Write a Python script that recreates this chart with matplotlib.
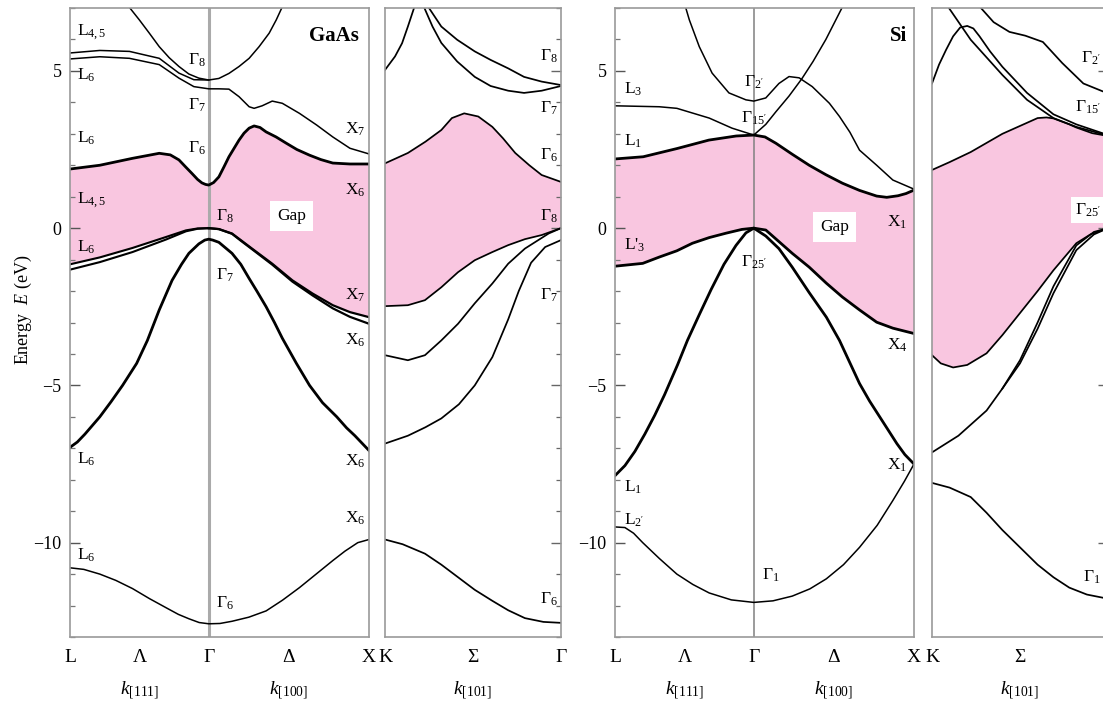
import numpy as np
import matplotlib
matplotlib.use("Agg")
import matplotlib.pyplot as plt
from matplotlib.ticker import MultipleLocator

plt.rcParams['font.family'] = ['Liberation Serif', 'DejaVu Serif']
plt.rcParams['mathtext.fontset'] = 'custom'
plt.rcParams['mathtext.rm'] = 'Liberation Serif'
plt.rcParams['mathtext.it'] = 'Liberation Serif:italic'
plt.rcParams['mathtext.bf'] = 'Liberation Serif:bold'

# ---------------- GaAs, L - Gamma - X  (k: L=-0.866, Gamma=0, X=1) ----------------
ga_c1_k = [-0.866, -0.68, -0.476, -0.309, -0.24, -0.186, -0.145, -0.105, -0.07, -0.043, -0.02, 0,
           0.03, 0.063, 0.095, 0.126, 0.189, 0.22, 0.252, 0.283, 0.32, 0.358, 0.42, 0.484, 0.55, 0.629, 0.7, 0.774, 0.881, 1.0]
ga_c1_E = [1.88, 2.0, 2.22, 2.38, 2.33, 2.17, 1.95, 1.74, 1.55, 1.44, 1.39, 1.37,
           1.45, 1.63, 1.95, 2.27, 2.8, 3.02, 3.18, 3.25, 3.2, 3.06, 2.9, 2.7, 2.5, 2.32, 2.18, 2.07, 2.04, 2.04]

ga_c2_k = [-0.866, -0.68, -0.495, -0.309, -0.186, -0.093, 0, 0.063, 0.126, 0.189, 0.252, 0.283, 0.333, 0.396, 0.459, 0.566, 0.673, 0.774, 0.881, 1.0]
ga_c2_E = [5.38, 5.45, 5.4, 5.2, 4.77, 4.5, 4.43, 4.43, 4.42, 4.18, 3.86, 3.81, 3.89, 4.04, 3.97, 3.65, 3.28, 2.9, 2.54, 2.36]

ga_c3_k = [-0.866, -0.68, -0.495, -0.309, -0.186, -0.093, 0]
ga_c3_E = [5.57, 5.65, 5.62, 5.4, 4.93, 4.72, 4.71]

ga_c4_k = [-0.5, -0.433, -0.371, -0.309, -0.247, -0.186, -0.124, -0.062, 0, 0.063, 0.126, 0.189, 0.252, 0.314, 0.377, 0.421, 0.46]
ga_c4_E = [7.05, 6.62, 6.2, 5.77, 5.42, 5.14, 4.9, 4.77, 4.71, 4.76, 4.92, 5.14, 5.4, 5.77, 6.2, 6.62, 7.05]

ga_v1a_k = [-0.866, -0.68, -0.476, -0.266, -0.142, -0.07, 0]
ga_v1a_E = [-1.15, -0.93, -0.63, -0.28, -0.07, -0.01, 0]
ga_v1b_E = [-1.32, -1.08, -0.76, -0.36, -0.1, -0.02, 0]
ga_v1c_k = [0, 0.063, 0.145, 0.2, 0.27, 0.396, 0.522, 0.648, 0.774, 0.881, 1.0]
ga_v1c_E = [0, -0.03, -0.17, -0.38, -0.65, -1.13, -1.66, -2.08, -2.45, -2.67, -2.83]
ga_v1d_E = [0, -0.03, -0.18, -0.4, -0.67, -1.16, -1.7, -2.14, -2.55, -2.82, -3.04]

ga_v2_k = [-0.866, -0.82, -0.773, -0.68, -0.61, -0.538, -0.45, -0.383, -0.309, -0.229, -0.17, -0.124, -0.062, -0.025, 0,
           0.025, 0.063, 0.145, 0.2, 0.252, 0.3, 0.358, 0.41, 0.459, 0.547, 0.629, 0.71, 0.799, 0.86, 0.912, 1.0]
ga_v2_E = [-6.97, -6.8, -6.55, -6.0, -5.52, -5.0, -4.3, -3.57, -2.6, -1.66, -1.15, -0.8, -0.5, -0.38, -0.35,
           -0.38, -0.45, -0.8, -1.15, -1.6, -2.0, -2.5, -3.0, -3.5, -4.3, -5.0, -5.55, -6.0, -6.35, -6.6, -7.07]

ga_v3_k = [-0.866, -0.78, -0.68, -0.58, -0.476, -0.37, -0.266, -0.19, -0.124, -0.06, 0,
           0.07, 0.145, 0.25, 0.358, 0.46, 0.566, 0.67, 0.774, 0.85, 0.93, 1.0]
ga_v3_E = [-10.8, -10.85, -11.0, -11.2, -11.46, -11.78, -12.07, -12.28, -12.42, -12.54, -12.58,
           -12.57, -12.5, -12.37, -12.17, -11.83, -11.43, -11.0, -10.57, -10.27, -10.0, -9.9]

# ---------------- GaAs, K - Gamma  (t: K=0, Gamma=1) ----------------
gk_c1_t = [0, 0.13, 0.23, 0.32, 0.38, 0.45, 0.53, 0.61, 0.67, 0.74, 0.82, 0.89, 1.0]
gk_c1_E = [2.06, 2.39, 2.75, 3.12, 3.5, 3.65, 3.55, 3.22, 2.86, 2.39, 2.0, 1.69, 1.47]
gk_c2_t = [0, 0.057, 0.097, 0.13, 0.168]
gk_c2_E = [5.03, 5.46, 5.88, 6.41, 7.05]
gk_c3_t = [0.244, 0.32, 0.41, 0.51, 0.6, 0.7, 0.79, 0.89, 1.0]
gk_c3_E = [7.05, 6.41, 5.99, 5.62, 5.35, 5.08, 4.81, 4.66, 4.55]
gk_c4_t = [0.22, 0.27, 0.32, 0.41, 0.51, 0.6, 0.7, 0.79, 0.89, 1.0]
gk_c4_E = [7.05, 6.41, 5.89, 5.3, 4.81, 4.52, 4.37, 4.3, 4.37, 4.52]
gk_v1_t = [0, 0.13, 0.227, 0.32, 0.415, 0.51, 0.61, 0.7, 0.795, 0.89, 1.0]
gk_v1_E = [-2.48, -2.45, -2.29, -1.88, -1.4, -1.02, -0.76, -0.54, -0.35, -0.22, 0]
gk_v2_t = [0, 0.13, 0.227, 0.32, 0.415, 0.51, 0.61, 0.7, 0.795, 0.93, 1.0]
gk_v2_E = [-4.04, -4.2, -4.04, -3.57, -3.04, -2.39, -1.76, -1.13, -0.65, -0.17, 0]
gk_v3_t = [0, 0.13, 0.23, 0.32, 0.42, 0.51, 0.61, 0.7, 0.76, 0.83, 0.91, 1.0]
gk_v3_E = [-6.85, -6.6, -6.33, -6.05, -5.6, -5.0, -4.1, -2.9, -2.0, -1.1, -0.6, -0.38]
gk_v4_t = [0, 0.1, 0.227, 0.32, 0.415, 0.51, 0.61, 0.7, 0.795, 0.9, 1.0]
gk_v4_E = [-9.9, -10.05, -10.35, -10.7, -11.1, -11.5, -11.85, -12.15, -12.4, -12.52, -12.55]

# ---------------- Si, L - Gamma - X ----------------
si_c1_k = [-0.866, -0.69, -0.48, -0.28, -0.11, 0, 0.07, 0.138, 0.24, 0.346, 0.45, 0.553, 0.66, 0.767, 0.83, 0.9, 0.95, 1.0]
si_c1_E = [2.2, 2.27, 2.53, 2.8, 2.93, 2.96, 2.9, 2.7, 2.35, 2.0, 1.7, 1.43, 1.2, 1.02, 0.98, 1.03, 1.1, 1.21]
si_c2_k = [0, 0.075, 0.138, 0.22, 0.3, 0.37, 0.45, 0.555]
si_c2_E = [2.96, 3.3, 3.7, 4.2, 4.75, 5.3, 6.0, 7.05]
si_c3_k = [-0.427, -0.402, -0.34, -0.26, -0.155, -0.049, 0, 0.075, 0.157, 0.22, 0.283, 0.365, 0.472, 0.535, 0.6, 0.66, 0.767, 0.868, 1.0]
si_c3_E = [7.05, 6.62, 5.77, 4.93, 4.3, 4.08, 4.04, 4.14, 4.6, 4.82, 4.78, 4.5, 3.97, 3.55, 3.05, 2.48, 2.0, 1.53, 1.24]
si_c4_k = [-0.866, -0.59, -0.48, -0.278, -0.136, 0]
si_c4_E = [3.89, 3.86, 3.81, 3.5, 3.18, 2.96]
si_v1_k = [-0.866, -0.693, -0.59, -0.48, -0.383, -0.278, -0.173, -0.074, 0, 0.075, 0.24, 0.346, 0.453, 0.553, 0.66, 0.767, 0.868, 1.0]
si_v1_E = [-1.21, -1.12, -0.92, -0.72, -0.48, -0.3, -0.16, -0.04, 0, -0.06, -0.8, -1.24, -1.75, -2.19, -2.6, -2.99, -3.18, -3.35]
si_v2_k = [-0.866, -0.804, -0.742, -0.68, -0.618, -0.557, -0.476, -0.414, -0.34, -0.266, -0.186, -0.111, -0.049, 0,
           0.075, 0.157, 0.24, 0.346, 0.453, 0.535, 0.597, 0.66, 0.723, 0.786, 0.849, 0.893, 0.943, 1.0]
si_v2_E = [-7.87, -7.55, -7.1, -6.55, -5.95, -5.3, -4.35, -3.57, -2.75, -1.95, -1.15, -0.55, -0.15, 0,
           -0.25, -0.65, -1.24, -2.05, -2.83, -3.57, -4.25, -4.94, -5.5, -6.0, -6.5, -6.85, -7.2, -7.5]
si_v3_k = [-0.866, -0.804, -0.75, -0.693, -0.59, -0.48, -0.38, -0.278, -0.14, 0,
           0.12, 0.24, 0.35, 0.453, 0.56, 0.66, 0.77, 0.868, 0.94, 1.0]
si_v3_E = [-9.5, -9.52, -9.7, -10.0, -10.5, -11.0, -11.33, -11.6, -11.82, -11.9,
           -11.85, -11.7, -11.47, -11.15, -10.7, -10.15, -9.45, -8.66, -8.05, -7.5]

# ---------------- Si, K - Gamma ----------------
sk_c1_t = [0, 0.1, 0.22, 0.4, 0.6, 0.65, 0.69, 0.78, 0.82, 0.91, 1.0]
sk_c1_E = [1.85, 2.1, 2.42, 3.0, 3.5, 3.52, 3.49, 3.3, 3.2, 3.02, 2.93]
sk_c2_t = [0, 0.04, 0.08, 0.12, 0.16, 0.2, 0.235, 0.27, 0.33, 0.4, 0.54, 0.69, 0.82, 1.0]
sk_c2_E = [4.6, 5.2, 5.67, 6.1, 6.38, 6.43, 6.35, 6.1, 5.62, 5.13, 4.3, 3.62, 3.3, 2.96]
sk_c3_t = [0.09, 0.22, 0.4, 0.54, 0.69, 0.82, 1.0]
sk_c3_E = [7.05, 5.99, 4.87, 4.08, 3.5, 3.22, 2.94]
sk_c4_t = [0.27, 0.35, 0.44, 0.53, 0.63, 0.74, 0.86, 0.97, 1.0]
sk_c4_E = [7.05, 6.55, 6.24, 6.12, 5.92, 5.25, 4.6, 4.35, 4.3]
sk_v1_t = [0, 0.05, 0.12, 0.2, 0.31, 0.4, 0.5, 0.6, 0.69, 0.82, 0.9, 1.0]
sk_v1_E = [-4.04, -4.3, -4.43, -4.35, -3.98, -3.4, -2.7, -2.0, -1.34, -0.48, -0.2, 0]
sk_v2_t = [0, 0.15, 0.31, 0.4, 0.5, 0.6, 0.69, 0.82, 0.92, 1.0]
sk_v2_E = [-7.13, -6.6, -5.8, -5.1, -4.3, -3.2, -2.07, -0.7, -0.2, 0]
sk_v2b_t = [0.4, 0.5, 0.6, 0.69, 0.82, 0.92, 1.0]
sk_v2b_E = [-5.1, -4.2, -3.0, -1.85, -0.55, -0.12, 0]
sk_v3_t = [0, 0.1, 0.22, 0.31, 0.4, 0.5, 0.6, 0.69, 0.78, 0.88, 0.97, 1.0]
sk_v3_E = [-8.1, -8.25, -8.55, -9.05, -9.6, -10.15, -10.7, -11.1, -11.43, -11.65, -11.75, -11.8]

PINK = '#f9c6e0'
THICK = 2.0
THIN = 1.1
SPINE = '#9a9a9a'
W, H = 1103, 709

fig = plt.figure(figsize=(W / 100, H / 100), dpi=100)

def pax(x0, x1):
    return fig.add_axes([x0 / W, 1 - 637 / H, (x1 - x0) / W, 629 / H])

ax1 = pax(70, 369)
ax2 = pax(385, 561)
ax3 = pax(615, 914)
ax4 = pax(932, 1108)

for ax in (ax1, ax2, ax3, ax4):
    ax.set_ylim(-13, 7)
    for s in ax.spines.values():
        s.set_color(SPINE)
        s.set_linewidth(1.2)
    ax.yaxis.set_major_locator(MultipleLocator(5))
    ax.yaxis.set_minor_locator(MultipleLocator(1))
    ax.tick_params(axis='x', length=0, labelsize=14, pad=9)

for ax in (ax1, ax3):
    ax.set_xlim(-0.866, 1.0)
    ax.set_xticks([-0.866, -0.433, 0, 0.5, 1.0])
    ax.set_xticklabels(['L', 'Λ', 'Γ', 'Δ', 'X'])
    ax.tick_params(axis='y', which='major', direction='in', length=7, width=1.0,
                   color='#555555', labelsize=13, pad=6, left=True, right=False)
    ax.tick_params(axis='y', which='minor', direction='in', length=3.5, width=0.9,
                   color='#777777', left=True, right=False)

for ax in (ax2, ax4):
    ax.set_xlim(0, 1)
    ax.set_xticks([0, 0.5, 1.0])
    ax.set_xticklabels(['K', 'Σ', 'Γ'])
    ax.tick_params(axis='y', which='both', direction='in', left=False, right=True,
                   labelleft=False, labelright=False, color='#666666')
    ax.tick_params(axis='y', which='major', length=7, width=1.0)
    ax.tick_params(axis='y', which='minor', length=3.5, width=0.9)

ax1.set_ylabel('Energy  $E$ (eV)', fontsize=13)
ax1.yaxis.set_label_coords(-0.12, 0.52)

# ---------- Panel 1: GaAs ----------
ax = ax1
lo_k = ga_v1a_k + ga_v1c_k[1:]
lo_E = ga_v1a_E + ga_v1c_E[1:]
ax.fill(ga_c1_k + lo_k[::-1], ga_c1_E + lo_E[::-1], color=PINK, lw=0, zorder=0)
ax.axvline(0, color='#aaaaaa', lw=2.2, zorder=1)
ax.plot(ga_c1_k, ga_c1_E, 'k', lw=THICK)
ax.plot(ga_c2_k, ga_c2_E, 'k', lw=THIN)
ax.plot(ga_c3_k, ga_c3_E, 'k', lw=THIN)
ax.plot(ga_c4_k, ga_c4_E, 'k', lw=THIN)
ax.plot(ga_v1a_k, ga_v1a_E, 'k', lw=1.5)
ax.plot(ga_v1a_k, ga_v1b_E, 'k', lw=1.5)
ax.plot(ga_v1c_k, ga_v1c_E, 'k', lw=1.6)
ax.plot(ga_v1c_k, ga_v1d_E, 'k', lw=1.6)
ax.plot(ga_v2_k, ga_v2_E, 'k', lw=THICK)
ax.plot(ga_v3_k, ga_v3_E, 'k', lw=THIN)

FS = 12.5
def lab(ax, x, y, s, ha='left', **kw):
    ax.text(x, y, s, ha=ha, va='center', fontsize=FS, **kw)

for y, s in [(6.24, 'L$_{\\mathrm{4,5}}$'), (4.87, 'L$_{\\mathrm{6}}$'), (2.85, 'L$_{\\mathrm{6}}$'),
             (0.9, 'L$_{\\mathrm{4,5}}$'), (-0.62, 'L$_{\\mathrm{6}}$'), (-7.35, 'L$_{\\mathrm{6}}$'),
             (-10.4, 'L$_{\\mathrm{6}}$')]:
    lab(ax1, -0.82, y, s)
for y, s in [(5.35, 'Γ$_{\\mathrm{8}}$'), (3.9, 'Γ$_{\\mathrm{7}}$'), (2.55, 'Γ$_{\\mathrm{6}}$')]:
    lab(ax1, -0.02, y, s, ha='right')
for y, s in [(0.38, 'Γ$_{\\mathrm{8}}$'), (-1.5, 'Γ$_{\\mathrm{7}}$'), (-11.94, 'Γ$_{\\mathrm{6}}$')]:
    lab(ax1, 0.045, y, s)
for y, s in [(3.15, 'X$_{\\mathrm{7}}$'), (1.2, 'X$_{\\mathrm{6}}$'), (-2.13, 'X$_{\\mathrm{7}}$'),
             (-3.57, 'X$_{\\mathrm{6}}$'), (-7.42, 'X$_{\\mathrm{6}}$'), (-9.24, 'X$_{\\mathrm{6}}$')]:
    lab(ax1, 0.975, y, s, ha='right')
ax1.text(0.935, 6.1, 'GaAs', ha='right', va='center', fontsize=15, fontweight='bold')
ax1.text(0.515, 0.4, 'Gap', ha='center', va='center', fontsize=12.5,
         bbox=dict(facecolor='white', edgecolor='none', pad=5))

# ---------- Panel 2: GaAs K-Gamma ----------
ax = ax2
ax.fill(gk_c1_t + gk_v1_t[::-1], gk_c1_E + gk_v1_E[::-1], color=PINK, lw=0, zorder=0)
for t, e in [(gk_c1_t, gk_c1_E), (gk_c2_t, gk_c2_E), (gk_c3_t, gk_c3_E), (gk_c4_t, gk_c4_E),
             (gk_v1_t, gk_v1_E), (gk_v2_t, gk_v2_E), (gk_v3_t, gk_v3_E), (gk_v4_t, gk_v4_E)]:
    ax.plot(t, e, 'k', lw=1.25)
for y, s in [(5.45, 'Γ$_{\\mathrm{8}}$'), (3.82, 'Γ$_{\\mathrm{7}}$'), (2.32, 'Γ$_{\\mathrm{6}}$'),
             (0.38, 'Γ$_{\\mathrm{8}}$'), (-2.13, 'Γ$_{\\mathrm{7}}$'), (-11.8, 'Γ$_{\\mathrm{6}}$')]:
    lab(ax2, 0.98, y, s, ha='right')

# ---------- Panel 3: Si ----------
ax = ax3
ax.fill(si_c1_k + si_v1_k[::-1], si_c1_E + si_v1_E[::-1], color=PINK, lw=0, zorder=0)
ax.axvline(0, color='#808080', lw=1.1, zorder=1)
ax.plot(si_c1_k, si_c1_E, 'k', lw=THICK)
ax.plot(si_c2_k, si_c2_E, 'k', lw=THIN)
ax.plot(si_c3_k, si_c3_E, 'k', lw=THIN)
ax.plot(si_c4_k, si_c4_E, 'k', lw=THIN)
ax.plot(si_v1_k, si_v1_E, 'k', lw=THICK)
ax.plot(si_v2_k, si_v2_E, 'k', lw=THICK)
ax.plot(si_v3_k, si_v3_E, 'k', lw=THIN)
for y, s in [(4.4, 'L$_{\\mathrm{3}}$'), (2.77, 'L$_{\\mathrm{1}}$'), (-0.54, "L'$_{\\mathrm{3}}$"),
             (-8.25, 'L$_{\\mathrm{1}}$'), (-9.3, "L$_{\\mathrm{2'}}$")]:
    lab(ax3, -0.81, y, s)
for y, s in [(4.65, "Γ$_{\\mathrm{2'}}$"), (3.5, "Γ$_{\\mathrm{15'}}$"), (-1.1, "Γ$_{\\mathrm{25'}}$")]:
    ax3.text(0.0, y, s, ha='center', va='center', fontsize=FS)
lab(ax3, 0.05, -11.05, 'Γ$_{\\mathrm{1}}$')
for y, s in [(0.19, 'X$_{\\mathrm{1}}$'), (-3.73, 'X$_{\\mathrm{4}}$'), (-7.55, 'X$_{\\mathrm{1}}$')]:
    lab(ax3, 0.96, y, s, ha='right')
ax3.text(0.96, 6.1, 'Si', ha='right', va='center', fontsize=15, fontweight='bold')
ax3.text(0.503, 0.03, 'Gap', ha='center', va='center', fontsize=12.5,
         bbox=dict(facecolor='white', edgecolor='none', pad=5))

# ---------- Panel 4: Si K-Gamma ----------
ax = ax4
ax.fill(sk_c1_t + sk_v1_t[::-1], sk_c1_E + sk_v1_E[::-1], color=PINK, lw=0, zorder=0)
for t, e in [(sk_c1_t, sk_c1_E), (sk_c2_t, sk_c2_E), (sk_c3_t, sk_c3_E), (sk_c4_t, sk_c4_E),
             (sk_v1_t, sk_v1_E), (sk_v2_t, sk_v2_E), (sk_v2b_t, sk_v2b_E), (sk_v3_t, sk_v3_E)]:
    ax.plot(t, e, 'k', lw=1.25)
for y, s in [(5.41, "Γ$_{\\mathrm{2'}}$"), (3.85, "Γ$_{\\mathrm{15'}}$"), (-11.1, 'Γ$_{\\mathrm{1}}$')]:
    lab(ax4, 0.96, y, s, ha='right')
ax4.text(0.96, 0.57, "Γ$_{\\mathrm{25'}}$", ha='right', va='center', fontsize=FS,
         bbox=dict(facecolor='white', edgecolor='none', pad=3))

# ---------- k-direction labels ----------
def klab(ax, x, s):
    ax.text(x, -0.085, s, transform=ax.get_xaxis_transform(), ha='center', va='center', fontsize=14)

klab(ax1, -0.433, '$k_{[111]}$')
klab(ax1, 0.5, '$k_{[100]}$')
klab(ax2, 0.5, '$k_{[101]}$')
klab(ax3, -0.433, '$k_{[111]}$')
klab(ax3, 0.5, '$k_{[100]}$')
klab(ax4, 0.5, '$k_{[101]}$')

fig.savefig('out.png', dpi=100)
